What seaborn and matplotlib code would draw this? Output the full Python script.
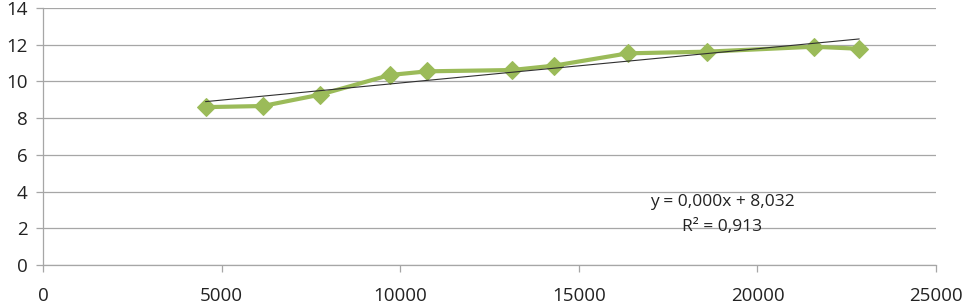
import numpy as np
import pandas as pd
import matplotlib
matplotlib.use("Agg")
import matplotlib.pyplot as plt
import seaborn as sns

# data
x_vals = [4550, 6150, 7760, 9710, 10760, 13120, 14310, 16370, 18580, 21570, 22850]
y_vals = [8.60, 8.66, 9.28, 10.35, 10.55, 10.62, 10.86, 11.53, 11.62, 11.89, 11.78]
x_ticks = [0, 5000, 10000, 15000, 20000, 25000]
y_ticks = [0, 2, 4, 6, 8, 10, 12, 14]
eq_text = "y = 0,000x + 8,032"
r2_text = "R² = 0,913"

df = pd.DataFrame({"x": x_vals, "y": y_vals})

sns.set_style("white")
plt.rcParams["font.family"] = ["Open Sans", "DejaVu Sans"]

fig = plt.figure(figsize=(9.66, 3.04), dpi=100)
ax = fig.add_axes([0.0445, 0.1283, 0.9245, 0.8454])

green = "#9BBB59"
sns.lineplot(data=df, x="x", y="y", ax=ax, color=green, linewidth=3.0,
             marker="D", markersize=9, markeredgecolor=green, zorder=3)

# linear trend line over data range
slope, intercept = np.polyfit(df["x"], df["y"], 1)
xt = np.array([df["x"].min(), df["x"].max()])
ax.plot(xt, slope * xt + intercept, color="#303030", linewidth=0.8, zorder=4)

ax.set_xlim(0, 25000)
ax.set_ylim(0, 14)
ax.set_xticks(x_ticks)
ax.set_yticks(y_ticks)
ax.set_xlabel("")
ax.set_ylabel("")

ax.grid(axis="y", color="#a6a6a6", linewidth=0.9)
ax.grid(axis="x", visible=False)
ax.set_axisbelow(True)
for s in ["top", "right"]:
    ax.spines[s].set_visible(False)
for s in ["left", "bottom"]:
    ax.spines[s].set_color("#a6a6a6")
    ax.spines[s].set_linewidth(0.9)

ax.tick_params(axis="x", direction="out", length=5, color="#a6a6a6",
               width=0.9, pad=11, labelsize=13.5, labelcolor="#222222")
ax.tick_params(axis="y", direction="out", length=5, color="#a6a6a6",
               width=0.9, pad=6, labelsize=13.5, labelcolor="#222222")
ax.tick_params(bottom=True, left=True)

ax.text(19010, 3.43, eq_text, ha="center", va="center", fontsize=12.5, color="#222222")
ax.text(19010, 2.07, r2_text, ha="center", va="center", fontsize=12.5, color="#222222")

fig.savefig("out.png", dpi=100)
